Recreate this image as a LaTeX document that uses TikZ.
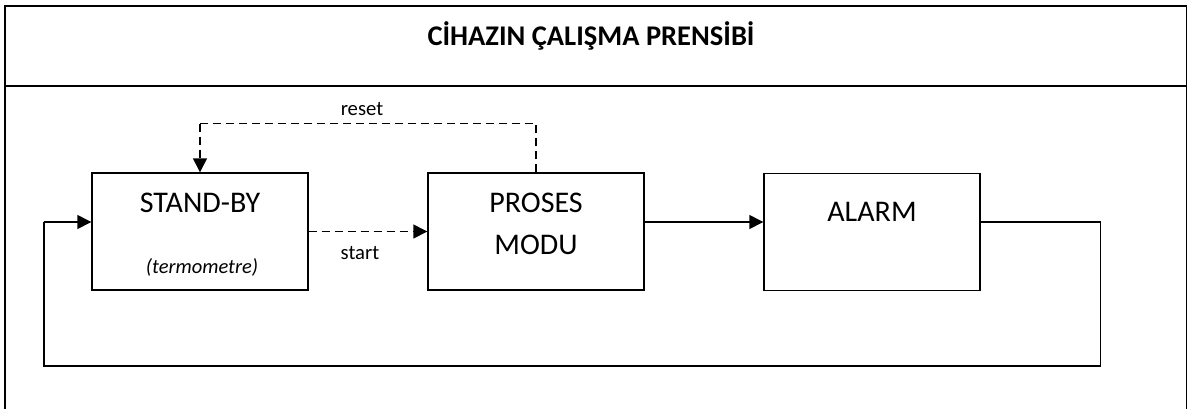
\documentclass[tikz,border=0pt]{standalone}
\usepackage{fontspec}
\setmainfont{Carlito}
\usetikzlibrary{arrows.meta}
\tikzset{
  frameline/.style={line width=1.8pt, black},
  box/.style={draw, line width=1.4pt, minimum width=216pt, minimum height=117pt, inner sep=0pt},
  boxtext/.style={font=\fontsize{30}{34}\selectfont, inner sep=0pt},
  lbl/.style={font=\fontsize{20.7}{24}\selectfont, inner sep=0pt},
  conn/.style={line width=1.4pt, -{Triangle[length=14pt,width=14pt]}},
  plain/.style={line width=1.4pt},
  dsh/.style={dash pattern=on 8pt off 5pt},
}
\begin{document}
\begin{tikzpicture}[x=1pt,y=-1pt]
\useasboundingbox (0,0) rectangle (1192,408);
\begin{scope}
\clip (0,0) rectangle (1192,408);
\draw[frameline] (5,420) -- (5,6) -- (1186.5,6) -- (1186.5,420);
\draw[frameline] (5,86) -- (1186.5,86);
\end{scope}
\node[font=\bfseries\fontsize{28.5}{32}\selectfont, inner sep=0pt] (title) at (591,36) {CİHAZIN ÇALIŞMA PRENSİBİ};

\node[box] (sb) at (200,231.5) {};
\node[box] (pm) at (536,231.5) {};
\node[box] (al) at (872,232) {};

\node[boxtext] (sbt) at (200,203) {STAND-BY};
\node[boxtext, font=\itshape\fontsize{20.5}{24}\selectfont] (sbi) at (202,267) {(termometre)};
\node[boxtext] (pmt1) at (536,203) {PROSES};
\node[boxtext] (pmt2) at (536,245) {MODU};
\node[boxtext] (alt) at (872,212) {ALARM};

\coordinate (rtop1) at (200,123.5);
\coordinate (rtop2) at (536,123.5);
\draw[plain, dsh] (pm.north) -- (rtop2) -- (rtop1);
\draw[conn, dsh] (rtop1) -- (sb.north);
\node[lbl] (reset) at (362,109) {reset};

\draw[conn, dsh] (sb.east) -- (pm.west);
\node[lbl] (start) at (360,253) {start};

\draw[conn] (pm.east |- 0,222) -- (al.west |- 0,222);

\coordinate (f1) at (1100.5,222);
\coordinate (f2) at (1100.5,366);
\coordinate (f3) at (44,366);
\coordinate (f4) at (44,222);
\draw[plain] (al.east |- f1) -- (f1) -- (f2) -- (f3) -- (f4);
\draw[conn] (f4) -- (sb.west |- f4);
\end{tikzpicture}
\end{document}
